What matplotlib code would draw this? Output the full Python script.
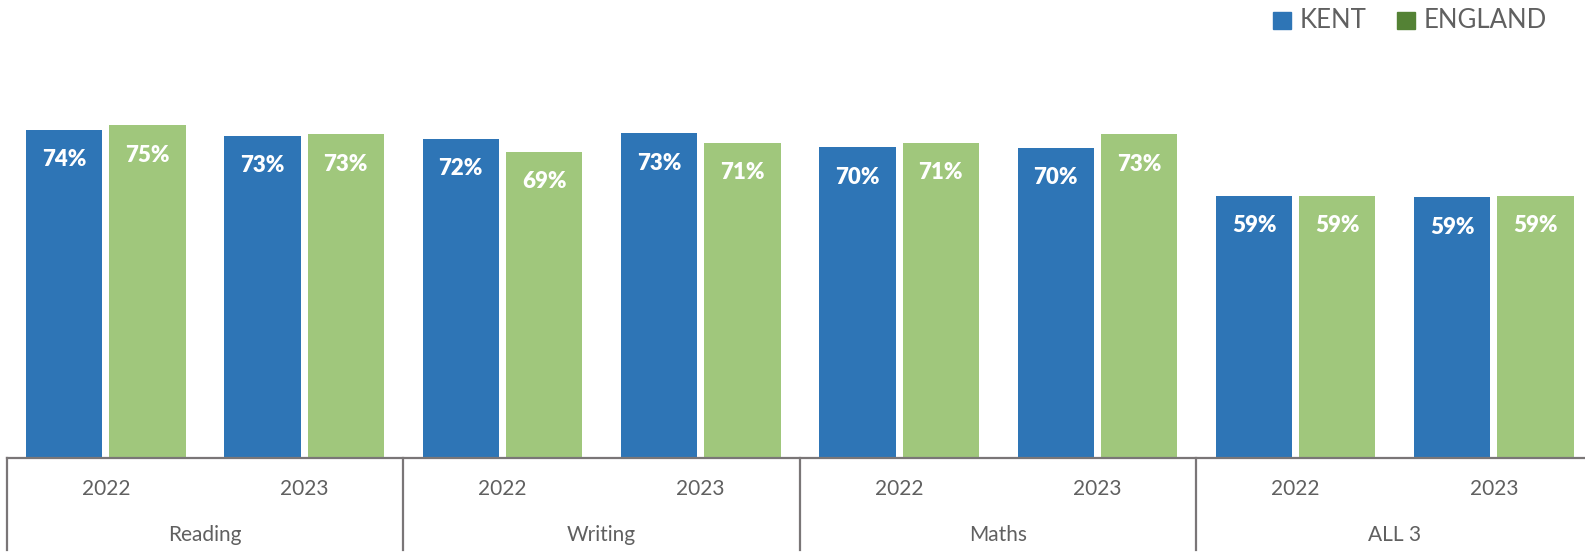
import numpy as np
import matplotlib
matplotlib.use("Agg")
import matplotlib.pyplot as plt
from matplotlib.transforms import blended_transform_factory
from matplotlib.patches import Rectangle

plt.rcParams["font.family"] = ["Lato", "DejaVu Sans"]

# ── data ─────────────────────────────────────────────────────────────────────
subjects = ["Reading", "Writing", "Maths", "ALL 3"]
years    = ["2022", "2023"]
kent     = [73.9, 72.6, 71.9, 73.1, 70.0, 69.9, 59.0, 58.7]
england  = [75.0, 72.9, 69.0, 71.0, 71.0, 72.9, 59.0, 59.0]
series   = ["KENT", "ENGLAND"]

KENT_C    = "#2E75B6"
ENG_C     = "#A0C77C"
ENG_LEG_C = "#548235"
GREY_TXT  = "#606060"
GREY_LN   = "#7A7677"

W, H = 1585, 559
fig = plt.figure(figsize=(W / 100, H / 100), dpi=100)

# axes runs slightly past the right edge, as in the original
ax_left   = 6.7 / W
ax_width  = 8 * 198.3 / W
ax_bottom = (H - 457.7) / H
ax_height = 80 * 4.436 / H
ax = fig.add_axes([ax_left, ax_bottom, ax_width, ax_height])

x = np.arange(len(kent))
bw, off = 0.385, 0.21
b1 = ax.bar(x - off, kent, bw, color=KENT_C, zorder=2)
b2 = ax.bar(x + off, england, bw, color=ENG_C, zorder=2)

for bars, vals in [(b1, kent), (b2, england)]:
    for rect, v in zip(bars, vals):
        ax.annotate(f"{round(v)}%", (rect.get_x() + rect.get_width() / 2, v),
                    xytext=(0, -30), textcoords="offset pixels",
                    ha="center", va="center", color="white",
                    fontsize=16, fontweight="heavy")

ax.set_xlim(-0.5, len(kent) - 0.5)
ax.set_ylim(0, 80)
ax.set_xticks([]); ax.set_yticks([])
for s in ["top", "right", "left"]:
    ax.spines[s].set_visible(False)
ax.spines["bottom"].set_color(GREY_LN)
ax.spines["bottom"].set_linewidth(1.6)

# ── two-level category axis ───────────────────────────────────────────────────
tr = blended_transform_factory(ax.transData, fig.transFigure)
y_top = ax_bottom
y_bot = (H - 550) / H
for i in range(len(subjects) + 1):
    xs = i * 2 - 0.5
    if xs > len(kent) - 0.5:
        continue
    ax.plot([xs, xs], [y_top, y_bot], transform=tr, color=GREY_LN,
            lw=1.6, clip_on=False)

for i in range(len(kent)):
    fig.text(i, (H - 489) / H, years[i % 2], transform=tr,
             ha="center", va="center", fontsize=15, color=GREY_TXT)
for j, s in enumerate(subjects):
    fig.text(j * 2 + 0.5, (H - 535) / H, s, transform=tr,
             ha="center", va="center", fontsize=15, color=GREY_TXT)

# ── legend ────────────────────────────────────────────────────────────────────
leg_items = [(1273, series[0], KENT_C), (1397, series[1], ENG_LEG_C)]
for px, lab, c in leg_items:
    fig.patches.append(Rectangle((px / W, (H - 29) / H), 18 / W, 17 / H,
                                 transform=fig.transFigure, color=c))
    fig.text((px + 27) / W, (H - 20.5) / H, lab, ha="left", va="center",
             fontsize=18.5, color=GREY_TXT)

fig.savefig("out.png", dpi=100)
